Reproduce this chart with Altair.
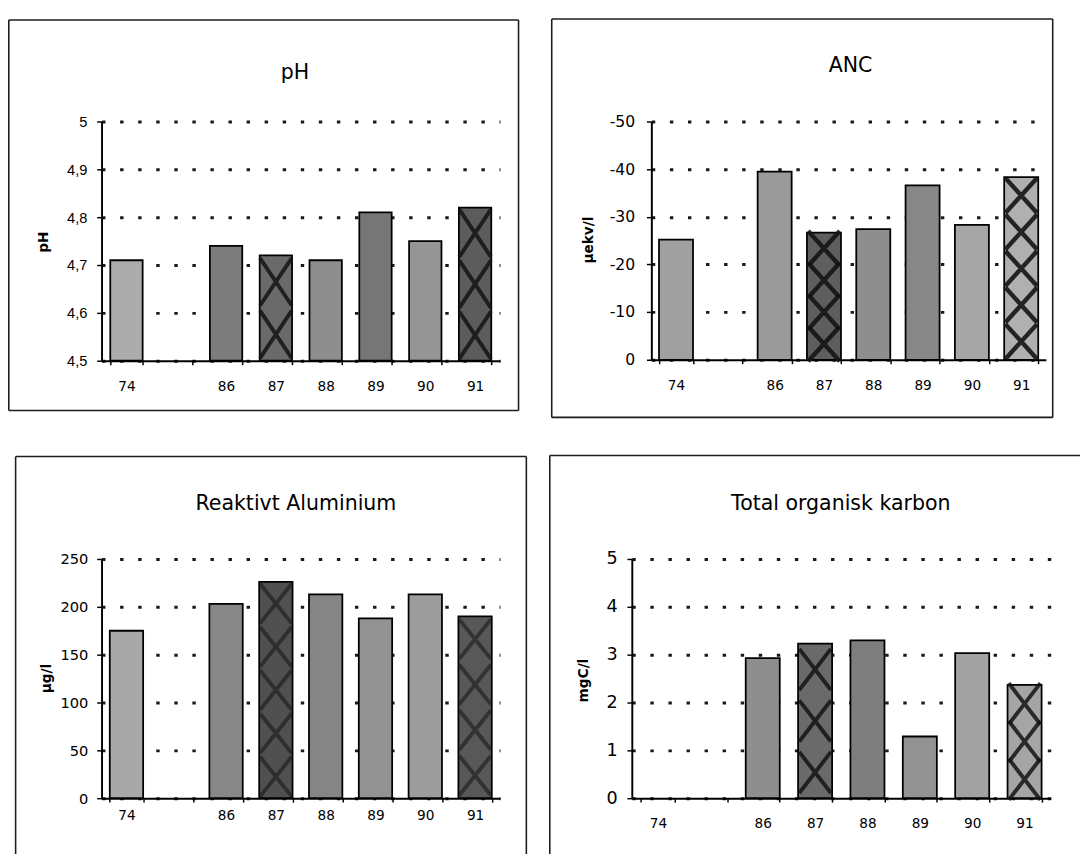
import altair as alt
import pandas as pd

# ---------------- data ----------------
years = ["74", "86", "87", "88", "89", "90", "91"]
x_slots = ["74", " ", "86", "87", "88", "89", "90", "91"]

ph_values = [4.71, 4.74, 4.72, 4.71, 4.81, 4.75, 4.82]
anc_values = [-25.2, -39.5, -26.7, -27.4, -36.6, -28.3, -38.3]
al_values = [175, 203, 226, 213, 188, 213, 190]
toc_values = [None, 2.93, 3.23, 3.30, 1.29, 3.03, 2.37]

# grey tones of the stippled bar fills, per panel
ph_fills = ["#acacac", "#7c7c7c", "#6a6a6a", "#8e8e8e", "#767676", "#959595", "#5c5c5c"]
anc_fills = ["#a0a0a0", "#9a9a9a", "#5e5e5e", "#8e8e8e", "#878787", "#a6a6a6", "#b0b0b0"]
al_fills = ["#a8a8a8", "#878787", "#505050", "#858585", "#929292", "#9c9c9c", "#585858"]
toc_fills = ["#a0a0a0", "#8e8e8e", "#6a6a6a", "#7e7e7e", "#939393", "#a2a2a2", "#a5a5a5"]

cross_years = ["87", "91"]
ph_cross_counts = [2, 3]
anc_cross_counts = [4, 5]
al_cross_counts = [5, 4]
toc_cross_counts = [3, 3]

ph_ticks = [4.5, 4.6, 4.7, 4.8, 4.9, 5.0]
anc_ticks = [0, -10, -20, -30, -40, -50]
al_ticks = [0, 50, 100, 150, 200, 250]
toc_ticks = [0, 1, 2, 3, 4, 5]

one = pd.DataFrame({"k": [0]})


def x_shape(aspect):
    a = f"{aspect:.2f}"
    return f"M-1,-{a}L1,{a}M1,-{a}L-1,{a}"


def vrule(x, y1, y2):
    return alt.Chart(one).mark_rule(color="#1c1c1c", strokeWidth=1.6).encode(
        x=alt.value(x), y=alt.value(y1), y2=alt.value(y2))


def hrule(y, x1, x2):
    return alt.Chart(one).mark_rule(color="#1c1c1c", strokeWidth=1.6).encode(
        y=alt.value(y), x=alt.value(x1), x2=alt.value(x2))


def panel(title, ytitle, values, fills, base, domain, ticks, counts, label_expr, c):
    df = pd.DataFrame({"year": years, "value": values, "fill": fills})
    df = df.dropna(subset=["value"]).copy()
    df["base"] = base
    rows = []
    for yr, n in zip(cross_years, counts):
        sel = df.loc[df.year == yr, "value"]
        if sel.empty:
            continue
        v = float(sel.iloc[0])
        for i in range(n):
            rows.append({"year": yr, "value": base + (i + 0.5) * (v - base) / n})
    cross_df = pd.DataFrame(rows)

    w, h = c["w"], c["h"]
    xs = alt.Scale(domain=x_slots, paddingInner=c["pi"], paddingOuter=c["pi"] / 2)
    ys = alt.Scale(domain=domain, nice=False, zero=False)
    x_axis = alt.Axis(title=None, labelAngle=0, grid=False, tickBand="extent", tickSize=4,
                      tickWidth=1.5, tickColor="black", domainColor="black", domainWidth=2,
                      labelFont="DejaVu Sans", labelFontSize=14, labelColor="black",
                      labelPadding=c["xlp"])
    y_axis = alt.Axis(title=ytitle, values=ticks, labelExpr=label_expr, grid=True,
                      gridDash=[3.5, 15], gridWidth=3, gridColor="#1a1a1a",
                      domainColor="black", domainWidth=2, tickColor="black", tickSize=5,
                      tickWidth=1.5, labelFont=c["lf"], labelFontSize=c["lfs"],
                      labelColor="black", labelPadding=c["ylp"], labelFlush=False,
                      titleFont="DejaVu Sans", titleFontWeight="bold", titleFontSize=14,
                      titleColor="black", titleAngle=270, titleBaseline="middle",
                      titleAlign="center", titleX=c["tx"], titleY=c["ty"])

    bars = alt.Chart(df).mark_bar(stroke="black", strokeWidth=1.8).encode(
        x=alt.X("year:N", scale=xs, axis=x_axis),
        y=alt.Y("value:Q", scale=ys, axis=y_axis),
        y2=alt.Y2("base:Q"),
        fill=alt.Fill("fill:N", scale=None),
    )
    crosses = alt.Chart(cross_df).mark_point(
        shape=x_shape(c["xa"]), size=1050, filled=False, stroke="#141414",
        strokeWidth=c["xw"], opacity=c["xo"]
    ).encode(
        x=alt.X("year:N", scale=xs, axis=x_axis),
        y=alt.Y("value:Q", scale=ys, axis=y_axis),
    )
    head = alt.Chart(one).mark_text(text=title, font="DejaVu Sans", fontSize=21, color="black",
                                    align="center", baseline="middle").encode(
        x=alt.value(c["hx"]), y=alt.value(c["hy"]))

    b = c["border"]
    frame = [
        hrule(b["top"], b["left"], b.get("right", w + 30)),
        vrule(b["left"], b["top"], b["bottom"]),
    ]
    if "right" in b:
        frame.append(vrule(b["right"], b["top"], b["bottom"]))
    if b.get("closed"):
        frame.append(hrule(b["bottom"], b["left"], b["right"]))

    return alt.layer(*frame, head, bars, crosses).properties(width=w, height=h)


ph_chart = panel(
    "pH", "pH", ph_values, ph_fills, 4.5, [4.5, 5.0], ph_ticks, ph_cross_counts,
    "replace(format(datum.value, '.2~f'), '.', ',')",
    dict(w=408, h=245, pi=0.35, xlp=15, lf="Liberation Sans", lfs=15, ylp=10,
         xa=1.5, xw=4, xo=0.85, tx=-59, ty=123, hx=198, hy=-50,
         border=dict(left=-95, right=427, top=-104, bottom=296, closed=True)))

anc_chart = panel(
    "ANC", "µekv/l", anc_values, anc_fills, 0, [0, -50], anc_ticks, anc_cross_counts,
    "datum.value == 0 ? '0' : '-' + format(abs(datum.value), 'd')",
    dict(w=404, h=244, pi=0.31, xlp=15, lf="DejaVu Sans", lfs=16, ylp=12,
         xa=1.1, xw=4.5, xo=0.9, tx=-64, ty=121, hx=204, hy=-57,
         border=dict(left=-102, right=411, top=-105, bottom=303, closed=True)))

al_chart = panel(
    "Reaktivt Aluminium", "µg/l", al_values, al_fills, 0, [0, 250], al_ticks, al_cross_counts,
    "format(datum.value, 'd')",
    dict(w=408, h=245, pi=0.33, xlp=7, lf="DejaVu Sans", lfs=15, ylp=9,
         xa=1.25, xw=4, xo=0.55, tx=-56, ty=122, hx=199, hy=-56,
         border=dict(left=-88, right=435, top=-105, bottom=302)))

toc_chart = panel(
    "Total organisk karbon", "mgC/l", toc_values, toc_fills, 0, [0, 5], toc_ticks,
    toc_cross_counts, "format(datum.value, 'd')",
    dict(w=429, h=245, pi=0.35, xlp=15, lf="DejaVu Sans", lfs=18, ylp=10,
         xa=1.3, xw=4, xo=0.85, tx=-49, ty=124, hx=214, hy=-56,
         border=dict(left=-84, top=-106, bottom=302)))

chart = alt.vconcat(
    alt.hconcat(ph_chart, anc_chart, spacing=30),
    alt.hconcat(al_chart, toc_chart, spacing=20),
    spacing=35,
).properties(
    padding={"left": 7, "top": 7, "right": 0, "bottom": 0},
).configure(background="white").configure_view(stroke="transparent")

chart.save("out.html", embed_options={"renderer": "svg", "actions": False})
